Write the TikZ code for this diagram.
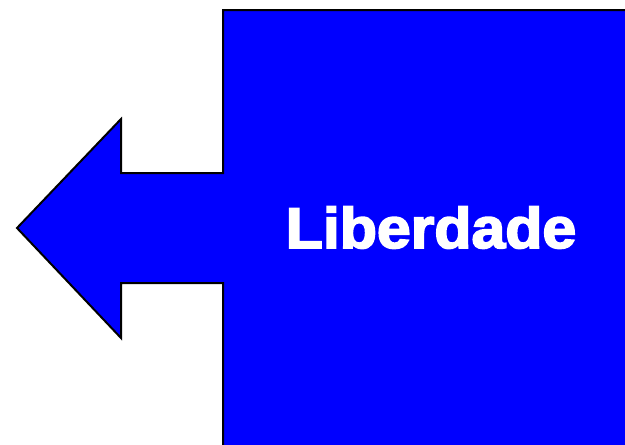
\documentclass[tikz,border=0pt]{standalone}
\usepackage{fontspec}
\setmainfont{Liberation Sans}
\newfontfamily\heavyfont[FakeBold=3]{Liberation Sans Bold}
\definecolor{calloutblue}{RGB}{0,0,255}
\tikzset{
  callout/.style={fill=calloutblue,draw=black,line width=1.5pt,line join=miter},
  label/.style={text=white,font=\heavyfont\fontsize{43}{50}\selectfont,inner sep=0pt}
}
\begin{document}
\begin{tikzpicture}[x=0.75pt,y=-0.75pt]
\useasboundingbox (0,0) rectangle (625,444);
\clip (0,0) rectangle (625,444);
\fill[white] (0,0) rectangle (625,444);
\path[callout] (223,10) -- (700,10) -- (700,500) -- (223,500) -- (223,283) -- (121,283)
  -- (121,338) -- (17,228) -- (121,119) -- (121,173) -- (223,173) -- cycle;
\node[label,anchor=base] (txt) at (431,248) {\scalebox{1.06}[1]{Liberdade}};
\end{tikzpicture}
\end{document}
